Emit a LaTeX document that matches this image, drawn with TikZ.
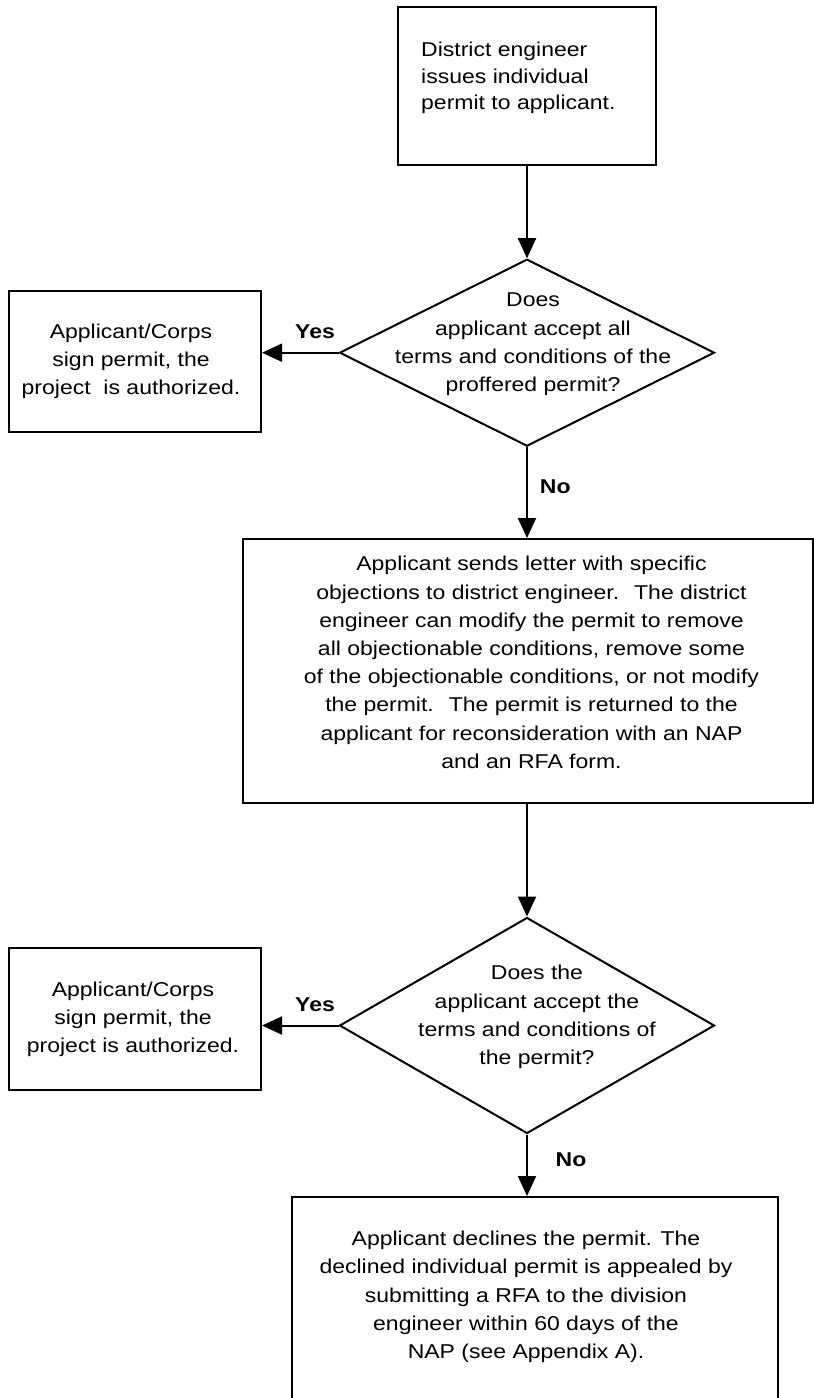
\documentclass[tikz,border=0pt]{standalone}
\usepackage{fontspec}
\setmainfont{Liberation Sans}
\usepackage{graphicx}
\usetikzlibrary{shapes.geometric,arrows.meta}
\newcommand{\mtxt}[2]{\scalebox{1.15}[1]{\begin{tabular}{@{}#1@{}}#2\end{tabular}}}
\begin{document}
\begin{tikzpicture}[x=1pt,y=-1pt,
  box/.style={draw, line width=2pt, rectangle, inner sep=0pt},
  dec/.style={draw, line width=2pt, diamond, inner sep=0pt},
  txt/.style={inner sep=0pt, font=\fontsize{20}{28.2}\selectfont},
  lbl/.style={inner sep=0pt, font=\fontsize{20}{24}\selectfont\bfseries},
  arr/.style={line width=2pt, -{Triangle[length=20pt,width=18pt]}}]
\clip (0,0) rectangle (814,1398);
% shapes
\node[box, minimum width=258pt, minimum height=158pt] (top) at (527,86) {};
\node[dec, minimum width=375pt, minimum height=187pt] (d1) at (527,352.7) {};
\node[box, minimum width=252pt, minimum height=141pt] (l1) at (135,361.2) {};
\node[box, minimum width=570pt, minimum height=264pt] (b2) at (528,671) {};
\node[dec, minimum width=375pt, minimum height=216pt] (d2) at (527,1025.5) {};
\node[box, minimum width=252pt, minimum height=142pt] (l2) at (135,1019) {};
\node[box, minimum width=486pt, minimum height=223pt] (b3) at (535,1308.5) {};
% texts
\node[txt, anchor=west, font=\fontsize{20}{26.5}\selectfont] (ttop) at (421,78) {\mtxt{l}{District engineer\\issues individual\\permit to applicant.}};
\node[txt] (td1) at (533,343.5) {\mtxt{c}{Does\\applicant accept all\\terms and conditions of the\\proffered permit?}};
\node[txt] (tl1) at (131,361) {\mtxt{c}{Applicant/Corps\\sign permit, the\\project~ is authorized.}};
\node[txt] (tb2) at (531.5,664) {\mtxt{c}{Applicant sends letter with specific\\objections to district engineer.~ The district\\engineer can modify the permit to remove\\all objectionable conditions, remove some\\of the objectionable conditions, or not modify\\the permit.~ The permit is returned to the\\applicant for reconsideration with an NAP\\and an RFA form.}};
\node[txt] (td2) at (537,1016.5) {\mtxt{c}{Does the\\applicant accept the\\terms and conditions of\\the permit?}};
\node[txt] (tl2) at (133,1019) {\mtxt{c}{Applicant/Corps\\sign permit, the\\project is authorized.}};
\node[txt] (tb3) at (526,1296.5) {\mtxt{c}{Applicant declines the permit. The\\declined individual permit is appealed by\\submitting a RFA to the division\\engineer within 60 days of the\\NAP (see Appendix A).}};
% connectors
\draw[arr] (top.south) -- (d1.north);
\draw[arr] (d1.west) -- (d1.west -| l1.east);
\draw[arr] (d1.south) -- (d1.south |- b2.north);
\draw[arr] (b2.south -| d2.north) -- (d2.north);
\draw[arr] (d2.west) -- (d2.west -| l2.east);
\draw[arr] (d2.south) -- (d2.south |- b3.north);
% labels
\node[lbl] (yes1) at (315,331.5) {\scalebox{1.15}[1]{Yes}};
\node[lbl] (no1) at (555.3,487) {\scalebox{1.15}[1]{No}};
\node[lbl] (yes2) at (315,1005) {\scalebox{1.15}[1]{Yes}};
\node[lbl] (no2) at (571,1160) {\scalebox{1.15}[1]{No}};
\end{tikzpicture}
\end{document}
